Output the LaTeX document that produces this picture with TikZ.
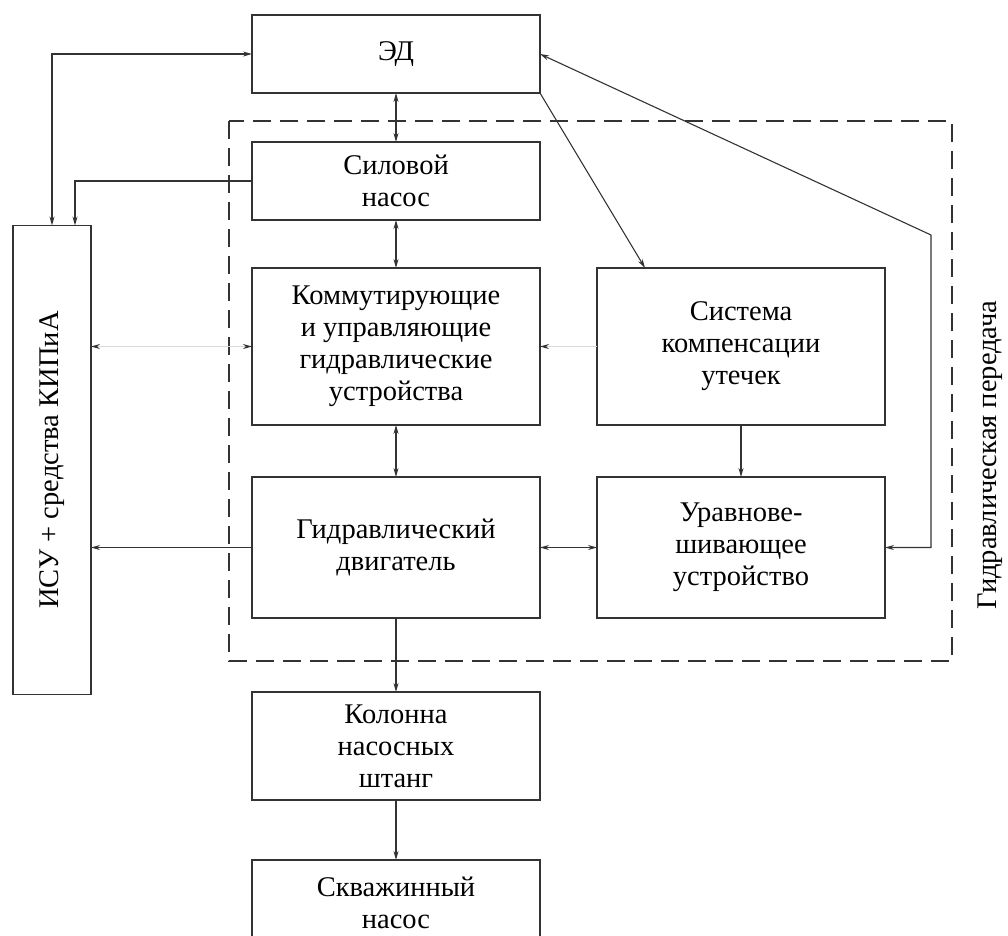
\documentclass[tikz,border=0pt]{standalone}
\usepackage{fontspec}
\setmainfont{Liberation Serif}
\usetikzlibrary{arrows.meta}
\usetikzlibrary{positioning}
\tikzset{> = {Stealth[length = 9pt, width = 5pt]}, node distance = 50pt,
  block/.style = {draw = black!80, line width = 1.6pt, minimum width = 288pt,
    align = center, inner sep = 0pt, outer sep = 0pt,
    font = \fontsize{28.5}{32}\selectfont},
  link/.style = {draw = black!80, line width = 1.1pt},
  faint/.style = {draw = black!15, line width = 1.1pt,
    > = {Stealth[length = 9pt, width = 5pt, color = black!80]}},
  frame/.style = {draw = black!80, line width = 1.5pt, dash pattern = on 18pt off 9pt}}

\begin{document}
\begin{tikzpicture}[x = 1pt, y = 1pt]
  \useasboundingbox (0,0) rectangle (1008,-935);
  \clip (0,0) rectangle (1008,-935);
  % nodes
  \node [block, minimum height = 78pt] (ed) at (396,-54) {ЭД};
  \node [block, minimum height = 78pt, below = 49pt of ed] (pump) {Силовой\\насос};
  \node [block, minimum height = 157pt, below = 48pt of pump] (komm) {Коммутирующие\\и управляющие\\гидравлические\\устройства};
  \node [block, minimum height = 157pt, right = 57pt of komm] (comp) {Система\\компенсации\\утечек};
  \node [block, minimum height = 141pt, below = 52pt of komm] (motor) {Гидравлический\\двигатель};
  \node [block, minimum height = 141pt, right = 57pt of motor] (bal) {Уравнове-\\шивающее\\устройство};
  \node [block, minimum height = 108pt, below = 74pt of motor] (rods) {Колонна\\насосных\\штанг};
  \node [block, minimum height = 86pt, below = 60pt of rods] (well) {Скважинный\\насос};
  \node [block, minimum width = 78pt, minimum height = 469pt] (isu) at (52,-460) {};
  \node [rotate = 90, font = \fontsize{28.5}{32}\selectfont] (isulabel) at (isu) {ИСУ + средства КИПиА};
  \node [rotate = 90, font = \fontsize{28.5}{32}\selectfont] (hplabel) at (990,-455) {Гидравлическая передача};
  \coordinate (turn) at (931,-235);
  % frame
  \draw [frame] (229,-121) rectangle (952,-661);
  % paths
  \draw [link, <->] (ed.west) -| (isu.north);
  \draw [link, ->] (pump.west) -| ([xshift = 23pt]isu.north);
  \draw [link, <->] (ed) -- (pump);
  \draw [link, <->] (pump) -- (komm);
  \draw [link, <->] (komm) -- (motor);
  \draw [faint, <->] (komm.west) -- (komm.west -| isu.east);
  \draw [faint, ->] (comp.west) -- (komm.east);
  \draw [link, ->] (motor.west) -- (motor.west -| isu.east);
  \draw [link, <->] (motor) -- (bal);
  \draw [link, ->] (comp) -- (bal);
  \draw [link, ->] (ed.south east) -- ([xshift = -96pt]comp.north);
  \draw [link, <->] (ed.east) -- (turn) |- (bal.east);
  \draw [link, ->] (motor) -- (rods);
  \draw [link, ->] (rods) -- (well);
\end{tikzpicture}
\end{document}
